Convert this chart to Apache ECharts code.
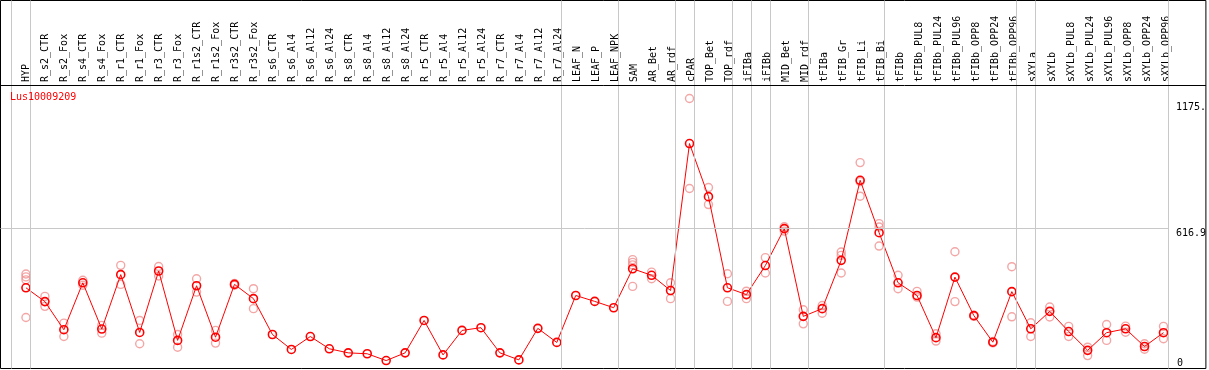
<!DOCTYPE html>
<html>
<head>
<meta charset="utf-8">
<script src="https://cdn.jsdelivr.net/npm/echarts@6/dist/echarts.min.js"></script>
<style>
  html, body { margin: 0; padding: 0; background: #fff; }
  #chart { width: 1209px; height: 370px; }
</style>
</head>
<body>
<div id="chart"></div>
<script>
// sample names, left to right
const categories = [
  "HYP", "R_s2_CTR", "R_s2_Fox", "R_s4_CTR", "R_s4_Fox", "R_r1_CTR", "R_r1_Fox",
  "R_r3_CTR", "R_r3_Fox", "R_r1s2_CTR", "R_r1s2_Fox", "R_r3s2_CTR", "R_r3s2_Fox",
  "R_s6_CTR", "R_s6_Al4", "R_s6_Al12", "R_s6_Al24", "R_s8_CTR", "R_s8_Al4",
  "R_s8_Al12", "R_s8_Al24", "R_r5_CTR", "R_r5_Al4", "R_r5_Al12", "R_r5_Al24",
  "R_r7_CTR", "R_r7_Al4", "R_r7_Al12", "R_r7_Al24", "LEAF_N", "LEAF_P", "LEAF_NPK",
  "SAM", "AR_Bet", "AR_rdf", "cPAR", "TOP_Bet", "TOP_rdf", "iFIBa", "iFIBb",
  "MID_Bet", "MID_rdf", "tFIBa", "tFIB_Gr", "tFIB_Li", "tFIB_Bi", "tFIBb",
  "tFIBb_PUL8", "tFIBb_PUL24", "tFIBb_PUL96", "tFIBb_OPP8", "tFIBb_OPP24", "tFIBb_OPP96",
  "sXYLa", "sXYLb", "sXYLb_PUL8", "sXYLb_PUL24", "sXYLb_PUL96", "sXYLb_OPP8",
  "sXYLb_OPP24", "sXYLb_OPP96"
];

// mean expression per sample
const meanValues = [
  356, 295, 171, 378, 174, 414, 159, 430, 124, 365, 138, 371, 308,
  150, 84, 141, 87, 69, 65, 35, 69, 212, 60, 168, 180, 69, 38, 177, 115,
  322, 296, 268, 440, 411, 344, 992, 758, 356, 326, 454, 617, 230,
  264, 477, 830, 599, 378, 322, 136, 403, 233, 116, 339,
  175, 252, 163, 80, 158, 175, 97, 158
];

// individual replicates per sample
const replicateValues = [
  [417, 404, 391, 225], [318, 274], [200, 141], [389, 367], [190, 156],
  [455, 371], [212, 109], [450, 408], [150, 94], [396, 337], [168, 112],
  [375, 367], [352, 264],
  [], [], [], [], [], [], [], [], [], [], [], [], [], [], [], [],
  [], [], [],
  [480, 468, 457, 362], [425, 396], [378, 308], [1191, 794], [798, 723],
  [418, 296], [341, 308], [489, 421], [625, 606], [259, 197],
  [278, 244], [514, 499, 421], [908, 824, 760], [639, 624, 540],
  [411, 352], [340, 315], [153, 121], [515, 295], [235, 230], [119, 113], [449, 228],
  [202, 141], [271, 227], [186, 141], [94, 57], [194, 124], [187, 160], [109, 85], [186, 131]
];

// group separators drawn after these sample indices
const groupEnds = [-1, 0, 28, 31, 34, 35, 37, 38, 39, 41, 45, 52, 53, 60];

const yTickValues = [616.9, 1175];
const yTickLabels = ["616.9", "1175."];
const yZeroLabel = "0";
const title = "Lus10009209";

// layout
const colW = 19;
const firstX = 26;
const gridLeft = 0.5;
const gridRight = 1208.5;
const yMax = 1623;
const headerValue = 1250;
const sepOffset = 0.25;
const xMin = (gridLeft - firstX) / colW;
const xMax = (gridRight - firstX) / colW;
const FONT = "DejaVu Sans Mono";

const chart = echarts.init(document.getElementById("chart"));

const meanData = meanValues.map((v, i) => [i, v]);
const repData = [];
replicateValues.forEach((list, i) => {
  list.forEach((v) => repData.push([i, v]));
});

const markLineData = groupEnds.map((e) => ({ xAxis: e + sepOffset }));
markLineData.push({ yAxis: headerValue, lineStyle: { color: "#000", width: 1 } });
markLineData.push([
  { coord: [xMin, yTickValues[0]] },
  { coord: [categories.length - 1 + sepOffset, yTickValues[0]] },
]);

const option = {
  animation: false,
  title: {
    text: title,
    left: 10,
    top: 92,
    padding: 0,
    textStyle: { color: "#ff0000", fontFamily: FONT, fontSize: 10, fontWeight: "normal" },
  },
  grid: [
    {
      left: gridLeft,
      right: 1209 - gridRight,
      top: 0.5,
      bottom: 1.5,
      show: true,
      borderColor: "#000",
      borderWidth: 1,
      backgroundColor: "#fff",
    },
    {
      left: firstX - colW / 2,
      width: colW * categories.length,
      top: 85,
      height: 1,
    },
  ],
  xAxis: [
    {
      type: "value",
      gridIndex: 0,
      min: xMin,
      max: xMax,
      show: false,
    },
    {
      type: "category",
      gridIndex: 1,
      position: "top",
      data: categories,
      boundaryGap: true,
      axisLine: { show: false },
      axisTick: { show: false },
      axisLabel: {
        interval: 0,
        rotate: 90,
        margin: 3,
        color: "#000",
        fontFamily: FONT,
        fontSize: 10,
      },
    },
  ],
  yAxis: [
    {
      type: "value",
      gridIndex: 0,
      min: 0,
      max: yMax,
      position: "right",
      axisLine: { show: false },
      axisTick: { show: false },
      splitLine: { show: false },
      axisLabel: {
        inside: true,
        customValues: yTickValues,
        formatter: (v) => yTickLabels[yTickValues.indexOf(v)] || "",
        align: "left",
        verticalAlign: "top",
        margin: 30,
        color: "#000",
        fontFamily: FONT,
        fontSize: 10,
      },
    },
    {
      type: "value",
      gridIndex: 0,
      min: 0,
      max: yMax,
      position: "right",
      axisLine: { show: false },
      axisTick: { show: false },
      splitLine: { show: false },
      axisLabel: {
        inside: true,
        customValues: [0],
        formatter: () => yZeroLabel,
        align: "left",
        verticalAlign: "bottom",
        margin: 29,
        color: "#000",
        fontFamily: FONT,
        fontSize: 10,
      },
    },
    { type: "value", gridIndex: 1, show: false },
  ],
  series: [
    {
      name: "replicates",
      type: "scatter",
      xAxisIndex: 0,
      yAxisIndex: 0,
      data: repData,
      symbol: "circle",
      symbolSize: 8,
      itemStyle: { color: "rgba(0,0,0,0)", borderColor: "#f09090", borderWidth: 1.4 },
      markLine: {
        silent: true,
        symbol: "none",
        label: { show: false },
        lineStyle: { color: "#c8c8c8", width: 1, type: "solid" },
        data: markLineData,
      },
      z: 2,
    },
    {
      name: "mean",
      type: "line",
      xAxisIndex: 0,
      yAxisIndex: 0,
      data: meanData,
      symbol: "circle",
      symbolSize: 8,
      showAllSymbol: true,
      lineStyle: { color: "#ff0000", width: 1 },
      itemStyle: { color: "rgba(0,0,0,0)", borderColor: "#ff0000", borderWidth: 1.6 },
      z: 3,
    },
  ],
};

chart.setOption(option);
</script>
</body>
</html>
